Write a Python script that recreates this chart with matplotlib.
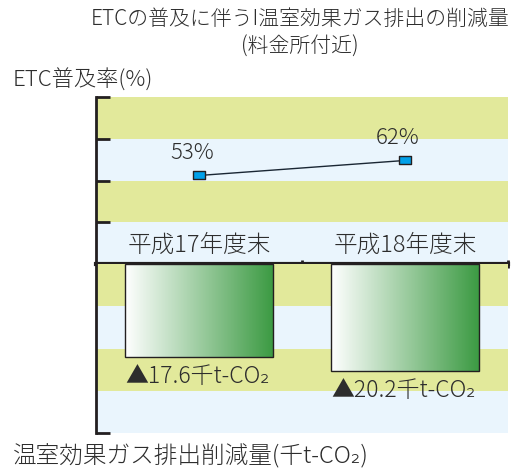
import matplotlib
matplotlib.use('Agg')
import matplotlib.pyplot as plt
import numpy as np
from matplotlib.path import Path
from matplotlib.colors import LinearSegmentedColormap

plt.rcParams['font.family'] = ['Noto Sans CJK JP', 'DejaVu Sans']
plt.rcParams['font.weight'] = 'light'

years = ['平成17年度末', '平成18年度末']
etc_rate = [53, 62]
co2_cut = [17.6, 20.2]
rate_labels = ['53%', '62%']
cut_labels = ['▲17.6千t-CO₂', '▲20.2千t-CO₂']

yellow = '#e2e99b'
blue = '#eaf5fd'
ink = '#231f20'
txt = '#2d2d2d'

x = np.arange(len(years))
W, H = 517, 470
fig = plt.figure(figsize=(W / 100, H / 100), dpi=100)
ax_top = fig.add_axes([96 / W, 1 - 264 / H, 412 / W, 167 / H])
ax_bot = fig.add_axes([96 / W, 1 - 433 / H, 412 / W, 169 / H])

# background bands
for i, c in enumerate([blue, yellow, blue, yellow]):
    ax_top.axhspan(i * 25, (i + 1) * 25, color=c, lw=0, zorder=0)
for i, c in enumerate([yellow, blue, yellow, blue]):
    ax_bot.axhspan(i * 8, (i + 1) * 8, color=c, lw=0, zorder=0)

# ETC rate line
rect = Path([(-1, -0.58), (1, -0.58), (1, 0.58), (-1, 0.58), (-1, -0.58)],
            [Path.MOVETO, Path.LINETO, Path.LINETO, Path.LINETO, Path.CLOSEPOLY])
ax_top.plot(x, etc_rate, color='#1a2633', lw=1, marker=rect, ms=9,
            mfc='#00a0e9', mec=ink, mew=1, zorder=4)
for xi, v, lab in zip(x, etc_rate, rate_labels):
    ax_top.annotate(lab, (xi, v), xytext=(-7, 22), textcoords='offset pixels',
                    ha='center', va='center', fontsize=16, color=txt)
for xi, lab in zip(x, years):
    ax_top.text(xi, 11, lab, ha='center', va='center', fontsize=17, color=txt)

# CO2 reduction bars with gradient
cmap = LinearSegmentedColormap.from_list('g', ['#ffffff', '#3b9a42'])
grad = np.linspace(0, 1, 256).reshape(1, -1)
bw = 0.72
bars = ax_bot.bar(x, co2_cut, width=bw, color='none', edgecolor=ink, lw=1, zorder=3)
for b in bars:
    im = ax_bot.imshow(grad, cmap=cmap, aspect='auto', zorder=2,
                       extent=[b.get_x(), b.get_x() + b.get_width(), b.get_height(), 0])
    im.set_clip_path(b)
for xi, v, lab in zip(x, co2_cut, cut_labels):
    ax_bot.annotate(lab, (xi - bw / 2, v), xytext=(0, -20), textcoords='offset pixels',
                    ha='left', va='center', fontsize=16.5, color=txt)

ax_top.set_xlim(-0.5, 1.5)
ax_top.set_ylim(0, 100)
ax_bot.set_xlim(-0.5, 1.5)
ax_bot.set_ylim(32, 0)

for ax in (ax_top, ax_bot):
    ax.spines['top'].set_visible(False)
    ax.spines['right'].set_visible(False)
    ax.spines['left'].set_linewidth(2)
    ax.spines['left'].set_color(ink)
    ax.tick_params(axis='y', direction='in', length=10, width=2, color=ink, labelleft=False)

ax_top.spines['bottom'].set_linewidth(3)
ax_top.spines['bottom'].set_color(ink)
ax_top.spines['bottom'].set_zorder(5)
ax_top.set_yticks([25, 50, 75, 100])
ax_top.set_xticks([0.5, 1.5])
ax_top.tick_params(axis='x', direction='inout', length=6, width=2, color=ink, labelbottom=False)
ax_top.spines['bottom'].set_clip_on(False)

ax_bot.spines['bottom'].set_visible(False)
ax_bot.set_yticks([32])
ax_bot.set_xticks([])

fig.text(300 / W, 1 - 19 / H, 'ETCの普及に伴うI温室効果ガス排出の削減量',
         ha='center', va='center', fontsize=15, color=txt)
fig.text(300 / W, 1 - 47 / H, '(料金所付近)', ha='center', va='center',
         fontsize=15, color=txt)
fig.text(13 / W, 1 - 80 / H, 'ETC普及率(%)', ha='left', va='center',
         fontsize=16, color=txt)
fig.text(13 / W, 1 - 457 / H, '温室効果ガス排出削減量(千t-CO₂)', ha='left', va='center',
         fontsize=17, color=txt)

fig.savefig('out.png', dpi=100)
